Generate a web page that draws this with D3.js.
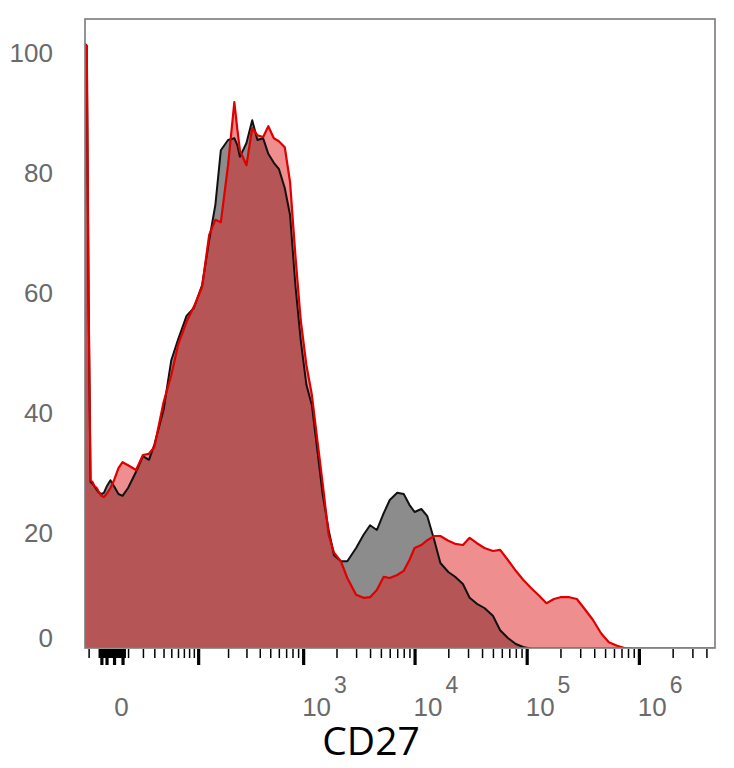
<!DOCTYPE html>
<html>
<head>
<meta charset="utf-8">
<script src="https://cdn.jsdelivr.net/npm/d3@7"></script>
<style>
  body { margin: 0; background: #fff; }
  svg { display: block; }
</style>
</head>
<body>
<div id="chart"></div>
<script>
'use strict';

// CD27 intensity of each histogram bin
const cd27 = [-10, -9, -8, -7, -6, -5, -4, -3, -2, -1, 0, 1.5, 3, 5, 7,
  10, 15, 20, 25, 30, 40, 50, 60, 75, 90, 110, 130, 150, 170, 200,
  230, 245, 260, 300, 340, 380, 430, 480, 540, 600, 680, 760, 850, 950, 1070,
  1200, 1350, 1500, 1700, 1900, 2200, 2500, 3000, 3500, 4000, 4600, 5300, 6000, 7000, 8000,
  9000, 10000, 11500, 13000, 15000, 17000, 20000, 23000, 27000, 31000, 36000, 42000, 50000, 58000, 68000,
  80000, 93000, 110000, 130000, 150000, 175000, 200000, 240000, 280000, 330000, 390000, 460000, 540000, 640000, 760000,
  900000, 1100000, 1500000, 2000000, 3000000, 4700000];

// % of max, black (control) sample
const blackCounts = [101.5, 101.2, 58.8, 28.5, 28.2, 27.7, 27.2, 26.7, 26.5, 26.7, 27.7, 28.8, 27.8, 26.5, 26.2,
  27.5, 30.2, 32.8, 32.2, 34.7, 40.5, 48.8, 52.2, 56.2, 57.5, 61.3, 68.8, 74.7, 83.8, 85.5,
  85.8, 84.7, 82.7, 85.0, 88.8, 85.5, 85.8, 83.2, 81.7, 80.7, 77.5, 73.0, 61.3, 52.2, 44.7,
  41.3, 33.5, 26.5, 20.5, 16.3, 15.3, 15.3, 17.5, 19.7, 21.3, 20.5, 23.3, 25.5, 26.7, 26.5,
  24.7, 23.5, 24.0, 22.8, 18.8, 15.0, 13.5, 12.7, 11.5, 9.2, 8.2, 7.5, 6.2, 3.8, 2.5,
  1.5, 1.0, 0.7, 0.7, 0.7, 0.7, 0.7, 0.7, 0.7, 0.7, 0.7, 0.7, 0.7, 0.7, 0.7,
  0.7, 0.7, 0.7, 0.7, 0.7, 0.7];

// % of max, red sample
const redCounts = [101.5, 101.2, 58.8, 28.8, 28.5, 27.8, 27.5, 26.8, 26.2, 26.0, 26.5, 27.5, 28.8, 30.8, 31.8,
  31.3, 30.5, 33.0, 33.2, 34.3, 41.8, 46.3, 51.3, 55.2, 57.7, 61.0, 69.7, 72.2, 71.8, 81.3,
  91.8, 87.5, 83.8, 81.3, 87.5, 86.3, 86.0, 87.8, 85.8, 85.3, 84.3, 78.5, 66.3, 55.5, 48.0,
  43.0, 35.2, 28.3, 19.7, 16.7, 15.2, 12.5, 9.7, 9.2, 9.3, 10.5, 12.7, 12.5, 13.0, 13.7,
  15.5, 17.5, 18.0, 18.8, 19.5, 19.5, 18.7, 18.2, 18.0, 19.2, 18.3, 17.5, 17.0, 17.2, 15.5,
  13.7, 12.2, 10.8, 9.5, 8.3, 9.0, 9.3, 9.3, 9.0, 7.3, 5.5, 3.3, 1.8, 1.2, 0.8,
  0.7, 0.7, 0.7, 0.7, 0.7, 0.7];

const yTicks = [0, 20, 40, 60, 80, 100];
const xLabelTicks = [0, 1000, 10000, 100000, 1000000];
const xMajorTicks = [-2, 0, 3, 7, 100, 1000, 10000, 100000, 1000000];

const width = 734,
      height = 768,
      plotLeft = 85, plotRight = 715, plotTop = 19, plotBottom = 648;

let svg = d3.select("#chart")
  .append("svg")
    .attr("width", width)
    .attr("height", height);

let x = d3.scaleSymlog()
  .constant(18)
  .domain([-10, 4770000])
  .range([plotLeft, plotRight]);

let y = d3.scaleLinear()
  .domain([0, 105.67])
  .range([653, plotTop]);

// minor ticks: dense near zero, then 2..9 in every decade
let nearZero = [-3, -2.5, -2, -1.5, -1, -0.5, 0.5, 1, 1.5, 2, 2.5, 3, 3.5, 4, 4.5, 5, 5.5, 6, 6.5, 7, 7.5, 8];
let minorTicks = [-8].concat(nearZero);
[10, 100, 1000, 10000, 100000, 1000000].forEach((d) => {
  d3.range(1, 10).forEach((m) => {
    if (d * m < 4770000 && !(m === 1 && d > 10)) minorTicks.push(d * m);
  });
});

let black = cd27.map((c, i) => ({v: c, n: blackCounts[i]}));
let red = cd27.map((c, i) => ({v: c, n: redCounts[i]}));

svg.append("clipPath")
  .attr("id", "plotClip")
  .append("rect")
    .attr("x", plotLeft)
    .attr("y", plotTop)
    .attr("width", plotRight - plotLeft)
    .attr("height", plotBottom - plotTop);

let area = d3.area()
  .x(function(d) { return x(d.v); })
  .y0(y(0))
  .y1(function(d) { return y(d.n); });

let line = d3.line()
  .x(function(d) { return x(d.v); })
  .y(function(d) { return y(d.n); });

let plot = svg.append("g").attr("clip-path", "url(#plotClip)");

plot.append("path")
  .attr("d", area(black))
  .attr("fill", "#8c8c8c");

plot.append("path")
  .attr("d", area(red))
  .attr("fill", "rgba(222,30,30,0.5)");

plot.append("path")
  .attr("d", line(black))
  .attr("fill", "none")
  .attr("stroke", "#111")
  .attr("stroke-width", 2)
  .attr("stroke-linejoin", "round");

plot.append("path")
  .attr("d", line(red))
  .attr("fill", "none")
  .attr("stroke", "#e00000")
  .attr("stroke-width", 2.2)
  .attr("stroke-linejoin", "round");

// frame
svg.append("rect")
  .attr("x", plotLeft)
  .attr("y", plotTop)
  .attr("width", plotRight - plotLeft)
  .attr("height", plotBottom - plotTop)
  .attr("fill", "none")
  .attr("stroke", "#7a7a7a")
  .attr("stroke-width", 1.6);

// x ticks
let minorAxis = svg.append("g")
  .attr("transform", "translate(0," + (plotBottom + 1) + ")")
  .call(d3.axisBottom(x).tickValues(minorTicks).tickSize(9).tickFormat(""));
minorAxis.select(".domain").remove();
minorAxis.selectAll("line")
  .attr("stroke", "#000")
  .attr("stroke-width", function(d) { return Math.abs(d) < 10 && d !== -8 ? 2 : 1.5; });

let majorAxis = svg.append("g")
  .attr("transform", "translate(0," + (plotBottom + 1) + ")")
  .call(d3.axisBottom(x).tickValues(xMajorTicks).tickSize(16).tickFormat(""));
majorAxis.select(".domain").remove();
majorAxis.selectAll("line").attr("stroke", "#000").attr("stroke-width", 3.2);

// x tick labels
let xLab = svg.append("g")
  .attr("font-family", "Liberation Sans, Arial, sans-serif")
  .attr("fill", "#6a6a6a");

xLabelTicks.forEach((t) => {
  if (t === 0) {
    xLab.append("text")
      .attr("x", x(t) + 15)
      .attr("y", 716)
      .attr("text-anchor", "middle")
      .attr("font-size", 26)
      .text("0");
  } else {
    let txt = xLab.append("text")
      .attr("x", x(t) - 1)
      .attr("y", 716)
      .attr("font-size", 26);
    txt.append("tspan").text("10");
    txt.append("tspan")
      .attr("dx", 3)
      .attr("dy", -23)
      .attr("font-size", 23)
      .text(String(Math.round(Math.log10(t))));
  }
});

// y labels
let yAxis = svg.append("g")
  .attr("transform", "translate(" + plotLeft + ",0)")
  .call(d3.axisLeft(y).tickValues(yTicks).tickSize(0).tickPadding(32));
yAxis.select(".domain").remove();
yAxis.selectAll("text")
  .attr("font-family", "Liberation Sans, Arial, sans-serif")
  .attr("font-size", 26)
  .attr("fill", "#6a6a6a")
  .attr("dy", "0.36em");
yAxis.selectAll(".tick")
  .attr("transform", function(d) { return "translate(0," + Math.min(y(d), 637.5) + ")"; });

svg.append("text")
  .attr("x", 371)
  .attr("y", 755)
  .attr("text-anchor", "middle")
  .attr("font-family", "Open Sans, Noto Sans, sans-serif")
  .attr("font-size", 39)
  .attr("fill", "#000")
  .text("CD27");
</script>
</body>
</html>
